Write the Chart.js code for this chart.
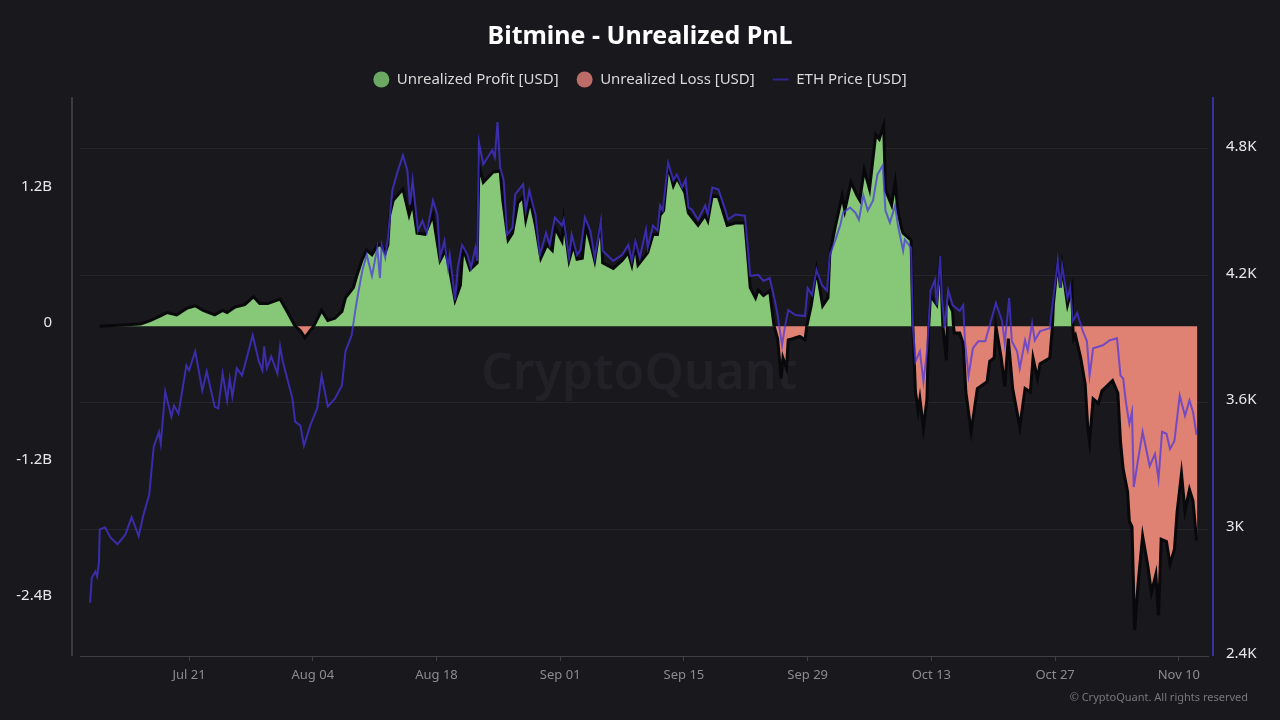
<!DOCTYPE html>
<html>
<head>
<meta charset="utf-8">
<title>Bitmine - Unrealized PnL</title>
<script src="https://cdn.jsdelivr.net/npm/chart.js@4"></script>
<style>
html, body { margin: 0; padding: 0; background: #18181d; }
canvas { display: block; }
</style>
</head>
<body>
<canvas id="chartInfo" width="1280" height="720"></canvas>
<script>
// x values are days counted from Jul 7
var tickDays = [14, 28, 42, 56, 70, 84, 98, 112, 126]
var tickLabels = ['Jul 21', 'Aug 04', 'Aug 18', 'Sep 01', 'Sep 15', 'Sep 29', 'Oct 13', 'Oct 27', 'Nov 10']
var pnlTicks = [-2.4, -1.2, 0, 1.2]
var pnlTickLabels = ['-2.4B', '-1.2B', '0', '1.2B']
var priceTicks = [2400, 3000, 3600, 4200, 4800]
var priceTickLabels = ['2.4K', '3K', '3.6K', '4.2K', '4.8K']

// null splits the area into separate lobes
var profitDays = [3.9, 8.5, 9.6, 10.7, 11.5, 12.6, 13.8, 14.7, 15.6, 16.9, 17.8, 18.3, 19.2, 20.3, 21.3, 22.0, 22.9, 24.3, 25.1, 26.0, 26.1,
    28.1, 29.0, 29.7, 30.5, 31.3, 31.7, 32.6, 33.0, 33.6, 34.1, 34.7, 35.3, 35.7, 36.2, 36.5, 36.7, 37.1, 38.2, 38.9, 39.3, 39.8, 40.7, 41.6, 42.4, 43.0, 43.5, 44.1, 44.7, 45.0, 45.8, 46.6, 46.8, 47.3, 48.4, 49.2, 49.5, 50.1, 50.6, 51.2, 51.8, 52.1, 52.6, 53.2, 53.8, 54.5, 55.1, 55.4, 56.2, 56.4, 57.0, 57.5, 57.9, 58.5, 58.9, 59.5, 59.9, 60.6, 60.8, 62.0, 63.0, 63.7, 64.1, 64.5, 64.8, 65.9, 66.5, 67.0, 67.3, 67.7, 68.2, 68.8, 69.2, 70.1, 70.5, 71.6, 72.4, 72.7, 73.2, 73.9, 74.9, 75.8, 76.9, 77.3, 77.5, 78.1, 78.4, 79.0, 79.7, 80.2, 80.3,
    83.9, 84.4, 85.0, 85.7, 86.3, 86.5, 87.1, 87.9, 88.2, 88.9, 89.6, 89.9, 90.4, 91.0, 91.7, 92.1, 92.6, 92.8, 93.5, 93.9, 94.2, 94.6, 94.8, 95.7, 95.9, 96.0,
    97.7, 97.9, 98.6, 99.0, 99.3, 99.4,
    99.8, 99.9, 100.4, 100.5, 100.6,
    111.7, 111.8, 112.3, 112.6, 112.8, 113.4, 113.9, 114.0]
var profitValues = [0, 0.02, 0.05, 0.09, 0.12, 0.10, 0.16, 0.18, 0.14, 0.10, 0.14, 0.12, 0.17, 0.19, 0.26, 0.20, 0.20, 0.24, 0.13, 0, null,
    0, 0.14, 0.05, 0.07, 0.13, 0.25, 0.34, 0.45, 0.59, 0.67, 0.63, 0.71, 0.72, 0.65, 0.72, 0.98, 1.11, 1.21, 0.98, 1.09, 0.82, 0.81, 0.98, 0.58, 0.67, 0.49, 0.23, 0.36, 0.69, 0.50, 0.56, 1.42, 1.27, 1.36, 1.37, 1.11, 0.76, 0.82, 1.09, 1.14, 0.94, 1.11, 0.89, 0.60, 0.72, 0.67, 0.87, 0.75, 0.93, 0.58, 0.72, 0.59, 0.60, 0.89, 0.71, 0.58, 0.93, 0.56, 0.51, 0.58, 0.65, 0.54, 0.72, 0.54, 0.65, 0.81, 0.81, 0.98, 1.02, 1.42, 1.24, 1.31, 1.18, 1.00, 0.89, 0.98, 0.93, 1.15, 1.14, 0.89, 0.91, 0.91, 0.54, 0.34, 0.25, 0.32, 0.27, 0.31, 0, null,
    0, 0.18, 0.50, 0.18, 0.25, 0.63, 0.87, 1.15, 1.02, 1.27, 1.15, 1.11, 1.38, 1.21, 1.69, 1.65, 1.77, 1.20, 1.07, 1.27, 1.02, 0.87, 0.82, 0.76, 0, null,
    0, 0.27, 0.19, 0.62, 0, null,
    0.22, 0.22, 0.13, 0, null,
    0, 0.19, 0.58, 0.34, 0.53, 0.19, 0.34, 0]

var lossDays = [26.0, 26.6, 27.1, 27.7, 28.1, 28.2,
    80.2, 80.6, 81.0, 81.2, 81.6, 81.8, 82.3, 83.1, 83.7, 83.9, 84.0,
    95.9, 96.2, 96.5, 96.7, 97.1, 97.5, 97.7, 97.8,
    99.3, 99.7, 99.8, 99.9,
    100.5, 100.6, 101.2, 101.6, 101.9, 102.5, 103.2, 104.3, 104.6, 105.1, 105.3, 105.9, 106.3, 106.7, 107.2, 108.0, 108.6, 109.2, 109.5, 110.0, 110.3, 111.4, 111.7, 111.8,
    114.0, 114.1, 114.3, 114.9, 115.4, 115.7, 115.9, 116.3, 116.9, 117.3, 118.5, 119.1, 119.4, 119.7, 120.2, 120.4, 120.7, 121.0, 121.4, 121.9, 122.5, 122.9, 123.4, 123.7, 124.0, 124.6, 125.0, 125.5, 125.8, 126.3, 126.7, 127.2, 127.6, 128.0, 128.1]
var lossValues = [0, -0.04, -0.10, -0.04, 0, null,
    0, -0.11, -0.46, -0.28, -0.37, -0.12, -0.11, -0.09, -0.12, 0, null,
    0, -0.58, -0.75, -0.64, -0.90, -0.64, 0, null,
    0, -0.30, 0, null,
    0, -0.06, -0.06, -0.15, -0.58, -0.93, -0.55, -0.49, -0.31, -0.28, 0, -0.28, -0.53, -0.11, -0.55, -0.89, -0.55, -0.58, -0.28, -0.46, -0.33, -0.28, 0, null,
    0, -0.11, -0.08, -0.28, -0.51, -0.90, -1.02, -0.64, -0.68, -0.57, -0.48, -0.59, -1.02, -1.26, -1.46, -1.72, -1.77, -2.68, -2.26, -1.85, -2.12, -2.35, -2.19, -2.55, -1.88, -1.90, -2.10, -1.97, -1.64, -1.30, -1.63, -1.44, -1.54, -1.88, -1.88]

var priceDays = [2.8, 3.0, 3.4, 3.6, 3.8, 3.9, 4.5, 5.1, 5.9, 6.8, 7.5, 8.3, 8.8, 9.5, 10.0, 10.6, 10.8, 11.3, 12.0, 12.3, 12.8, 13.7, 14.0, 14.7, 15.5, 16.0, 16.9, 17.3, 17.8, 18.3, 18.6, 18.9, 19.4, 20.0, 21.2, 21.9, 22.3, 22.5, 22.8, 23.3, 24.0, 24.3, 24.6, 25.7, 26.0, 26.6, 27.0, 27.7, 28.5, 29.0, 29.7, 30.5, 31.3, 31.7, 32.4, 32.8, 33.1, 33.6, 34.1, 34.7, 35.3, 35.6, 35.8, 36.2, 36.5, 37.0, 37.5, 38.2, 38.7, 39.0, 39.3, 39.9, 40.4, 40.9, 41.6, 42.1, 42.4, 42.9, 43.3, 43.5, 44.1, 44.4, 44.9, 45.5, 45.9, 46.4, 46.6, 46.8, 47.3, 48.3, 48.6, 48.9, 49.2, 49.6, 50.0, 50.6, 50.9, 51.8, 52.1, 52.5, 53.2, 53.7, 54.4, 54.8, 55.4, 56.2, 56.4, 57.0, 57.3, 57.9, 58.3, 58.8, 59.4, 59.9, 60.6, 60.8, 62.0, 63.0, 63.7, 64.1, 64.5, 65.0, 65.7, 65.9, 66.5, 67.0, 67.3, 67.6, 68.2, 68.8, 69.2, 69.8, 70.2, 70.5, 70.9, 71.6, 72.4, 72.7, 73.2, 73.9, 74.7, 75.0, 75.8, 76.9, 77.3, 77.5, 78.4, 79.0, 79.7, 80.3, 80.6, 81.1, 81.4, 81.8, 82.6, 83.7, 84.0, 84.5, 85.0, 85.6, 86.2, 86.5, 87.1, 87.7, 88.0, 88.8, 89.4, 89.8, 90.3, 90.8, 91.4, 91.9, 92.5, 92.8, 93.3, 93.9, 94.2, 94.8, 95.0, 95.7, 95.9, 96.2, 96.7, 97.1, 97.5, 97.9, 98.4, 98.6, 99.0, 99.2, 99.5, 99.9, 100.4, 101.2, 101.6, 101.8, 102.2, 102.7, 103.3, 104.1, 104.6, 105.3, 106.0, 106.3, 106.8, 107.1, 107.7, 108.0, 108.6, 108.9, 109.4, 109.7, 110.3, 111.4, 111.7, 112.3, 112.6, 112.8, 113.4, 113.7, 114.0, 114.5, 115.1, 115.6, 115.9, 116.3, 117.4, 118.2, 119.0, 119.4, 119.7, 120.0, 120.4, 120.7, 120.9, 121.4, 121.9, 122.7, 123.3, 123.7, 124.1, 124.6, 125.0, 125.5, 126.1, 126.7, 127.2, 127.6, 128.0]
var priceValues = [2652, 2771, 2799, 2776, 2842, 2999, 3009, 2961, 2928, 2975, 3056, 2966, 3061, 3165, 3389, 3460, 3403, 3650, 3531, 3584, 3546, 3774, 3750, 3840, 3655, 3745, 3579, 3570, 3736, 3608, 3712, 3626, 3760, 3726, 3917, 3793, 3750, 3864, 3760, 3817, 3736, 3864, 3793, 3617, 3508, 3489, 3394, 3489, 3570, 3726, 3579, 3617, 3679, 3840, 3917, 4031, 4107, 4221, 4297, 4197, 4330, 4187, 4344, 4283, 4378, 4601, 4677, 4767, 4696, 4535, 4649, 4411, 4458, 4401, 4554, 4487, 4283, 4363, 4235, 4297, 4083, 4235, 4344, 4297, 4235, 4330, 4268, 4829, 4725, 4791, 4758, 4924, 4710, 4649, 4392, 4425, 4582, 4630, 4506, 4601, 4487, 4297, 4401, 4344, 4473, 4435, 4463, 4283, 4392, 4297, 4321, 4473, 4411, 4283, 4458, 4316, 4268, 4297, 4344, 4268, 4363, 4283, 4416, 4330, 4435, 4411, 4530, 4506, 4734, 4649, 4677, 4615, 4653, 4520, 4511, 4463, 4530, 4487, 4615, 4606, 4506, 4463, 4487, 4482, 4297, 4197, 4202, 4173, 4187, 4078, 4012, 3869, 3950, 4036, 4012, 4007, 4140, 4107, 4226, 4154, 4126, 4297, 4363, 4439, 4496, 4520, 4496, 4463, 4577, 4506, 4554, 4677, 4720, 4506, 4449, 4530, 4439, 4316, 4368, 4330, 3964, 3793, 3840, 3698, 3840, 4126, 4178, 4059, 4292, 4092, 3950, 4130, 4059, 4031, 4059, 3888, 3726, 3855, 3888, 3888, 3964, 4069, 3983, 3879, 4092, 3888, 3840, 3760, 3893, 3845, 3974, 3893, 3936, 3950, 4059, 4268, 4140, 4245, 4092, 4140, 3983, 4021, 3940, 3888, 3726, 3855, 3869, 3893, 3902, 3726, 3712, 3603, 3498, 3555, 3199, 3332, 3460, 3298, 3356, 3237, 3460, 3451, 3379, 3417, 3631, 3536, 3608, 3555, 3446]

// pair x and y arrays for the linear x axis
function toPoints(days, values) {
    var pts = []
    for (var i = 0; i < days.length; i++) {
        pts.push({ x: days[i], y: values[i] })
    }
    return pts
}

var uiFont = '"Noto Sans", "Open Sans", sans-serif'

// axis lines stand off the plot area, watermark and copyright sit behind or outside it
var decorations = {
    id: 'decorations',
    beforeDatasetsDraw: function (chart) {
        var ctx = chart.ctx
        ctx.save()
        ctx.font = '600 50px ' + uiFont
        ctx.fillStyle = '#212127'
        ctx.textAlign = 'center'
        ctx.textBaseline = 'middle'
        ctx.fillText('CryptoQuant', 639, 375)
        ctx.restore()
    },
    afterDraw: function (chart) {
        var ctx = chart.ctx
        var area = chart.chartArea
        ctx.save()
        ctx.strokeStyle = '#46464c'
        ctx.lineWidth = 1.5
        ctx.beginPath()
        ctx.moveTo(area.left - 8, area.top)
        ctx.lineTo(area.left - 8, area.bottom)
        ctx.stroke()
        ctx.strokeStyle = '#3a2f9e'
        ctx.lineWidth = 2
        ctx.beginPath()
        ctx.moveTo(area.right + 5, area.top)
        ctx.lineTo(area.right + 5, area.bottom)
        ctx.stroke()
        ctx.font = '11px ' + uiFont
        ctx.fillStyle = '#77777d'
        ctx.textAlign = 'right'
        ctx.textBaseline = 'middle'
        ctx.fillText('\u00a9 CryptoQuant. All rights reserved', 1248, 698)
        ctx.restore()
    }
}

var canvas = document.getElementById('chartInfo')
var ctx = canvas.getContext('2d')
var myChart = new Chart(ctx, {
    type: 'line',
    data: {
        datasets: [{
            label: 'ETH Price [USD]',
            data: toPoints(priceDays, priceValues),
            yAxisID: 'y1',
            borderColor: 'rgba(72, 52, 225, 0.72)',
            borderWidth: 2,
            pointRadius: 0,
            tension: 0,
            fill: false,
            order: 0
        }, {
            label: 'Unrealized Profit [USD]',
            data: toPoints(profitDays, profitValues),
            yAxisID: 'y',
            borderColor: '#09090b',
            borderWidth: 3,
            backgroundColor: '#87c878',
            pointRadius: 0,
            tension: 0,
            fill: 'origin',
            order: 1
        }, {
            label: 'Unrealized Loss [USD]',
            data: toPoints(lossDays, lossValues),
            yAxisID: 'y',
            borderColor: '#09090b',
            borderWidth: 3,
            backgroundColor: '#e08273',
            pointRadius: 0,
            tension: 0,
            fill: 'origin',
            order: 1
        }]
    },
    options: {
        responsive: false,
        animation: false,
        devicePixelRatio: 1,
        layout: { padding: 0 },
        plugins: {
            tooltip: { enabled: false },
            title: {
                display: true,
                text: 'Bitmine - Unrealized PnL',
                color: '#ffffff',
                font: { family: uiFont, size: 25, weight: '700', lineHeight: 1.2 },
                padding: { top: 22, bottom: 2 }
            },
            legend: {
                display: true,
                position: 'top',
                labels: {
                    color: '#d9d9d9',
                    font: { family: uiFont, size: 15 },
                    usePointStyle: true,
                    pointStyleWidth: 16,
                    boxHeight: 11.3,
                    padding: 18,
                    generateLabels: function () {
                        return [
                            { text: 'Unrealized Profit [USD]', fillStyle: '#6aa863', strokeStyle: '#6aa863', lineWidth: 0, pointStyle: 'circle', fontColor: '#d9d9d9' },
                            { text: 'Unrealized Loss [USD]', fillStyle: '#bd6b66', strokeStyle: '#bd6b66', lineWidth: 0, pointStyle: 'circle', fontColor: '#d9d9d9' },
                            { text: 'ETH Price [USD]', fillStyle: '#2f2590', strokeStyle: '#2f2590', lineWidth: 2, pointStyle: 'line', fontColor: '#d9d9d9' }
                        ]
                    }
                }
            }
        },
        scales: {
            x: {
                type: 'linear',
                min: 1.66,
                max: 129.3,
                afterFit: function (scale) { scale.height = 64 },
                afterBuildTicks: function (scale) {
                    scale.ticks = tickDays.map(function (d) { return { value: d } })
                },
                border: { color: '#3f3f45' },
                grid: { drawOnChartArea: false, drawTicks: true, tickLength: 5, color: '#3f3f45' },
                ticks: {
                    autoSkip: false,
                    maxRotation: 0,
                    padding: 6,
                    color: '#8b8b91',
                    font: { family: uiFont, size: 13 },
                    callback: function (v) { return tickLabels[tickDays.indexOf(v)] }
                }
            },
            y: {
                position: 'left',
                min: -2.909,
                max: 2.022,
                afterFit: function (scale) { scale.width = 80 },
                afterBuildTicks: function (scale) {
                    scale.ticks = pnlTicks.map(function (v) { return { value: v } })
                },
                border: { display: false },
                grid: { display: false },
                ticks: {
                    padding: 20,
                    color: '#e8e8e8',
                    font: { family: uiFont, size: 15, lineHeight: '6px' },
                    callback: function (v) { return [pnlTickLabels[pnlTicks.indexOf(v)], ''] }
                }
            },
            y1: {
                position: 'right',
                min: 2400,
                max: 5043,
                afterFit: function (scale) { scale.width = 72 },
                afterBuildTicks: function (scale) {
                    scale.ticks = priceTicks.map(function (v) { return { value: v } })
                },
                border: { display: false },
                grid: { color: '#25252b', drawTicks: false, tickLength: 0 },
                ticks: {
                    padding: 18,
                    color: '#e8e8e8',
                    font: { family: uiFont, size: 15, lineHeight: '4px' },
                    callback: function (v) { return [priceTickLabels[priceTicks.indexOf(v)], ''] }
                }
            }
        }
    },
    plugins: [decorations]
})
</script>
</body>
</html>
